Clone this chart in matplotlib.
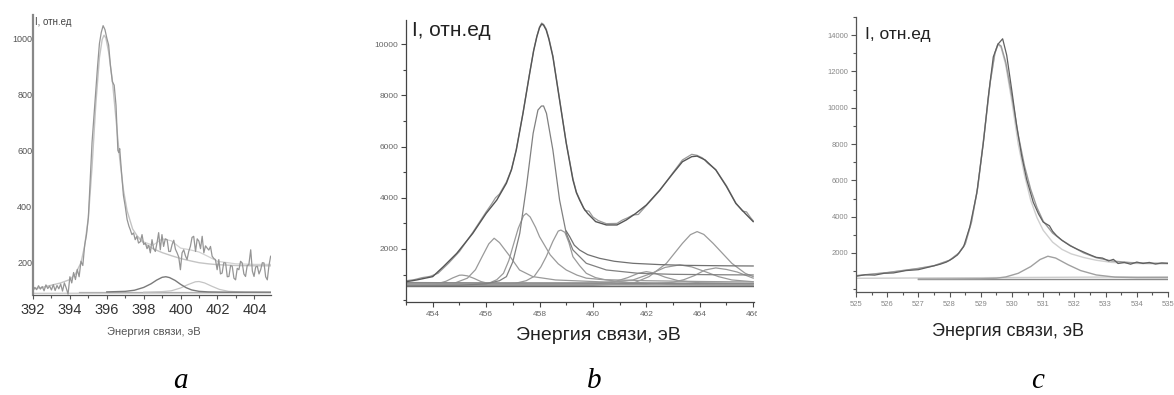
"""
XPS spectra: N 1s (a), Ti 2p (b), O 1s (c) with fitted components
"""

import matplotlib
matplotlib.use("Agg")
import matplotlib.pyplot as plt
from matplotlib.ticker import FixedLocator, MultipleLocator
from matplotlib.transforms import Bbox, TransformedBbox

plt.rcParams["font.family"] = ["Liberation Sans", "DejaVu Sans"]

W, H = 1174, 395

# ---------------- panel a ----------------
a_meas_x = [392.00, 392.10, 392.20, 392.30, 392.40, 392.50, 392.60, 392.70, 392.80, 392.90,
            393.00, 393.10, 393.20, 393.30, 393.40, 393.50, 393.60, 393.70, 393.80, 393.90,
            394.00, 394.10, 394.20, 394.30, 394.40, 394.50, 394.60, 394.70, 394.80, 394.90,
            395.00, 395.10, 395.20, 395.30, 395.40, 395.50, 395.60, 395.70, 395.80, 395.90,
            396.00, 396.10, 396.20, 396.30, 396.40, 396.50, 396.60, 396.65, 396.70, 396.80,
            396.90, 397.00, 397.10, 397.20, 397.27, 397.36, 397.45, 397.54, 397.63, 397.72,
            397.82, 397.91, 398.00, 398.09, 398.18, 398.27, 398.36, 398.45, 398.54, 398.63,
            398.72, 398.81, 398.90, 398.99, 399.08, 399.17, 399.27, 399.36, 399.45, 399.54,
            399.63, 399.72, 399.81, 399.90, 399.99, 400.08, 400.17, 400.26, 400.35, 400.44,
            400.53, 400.62, 400.71, 400.81, 400.90, 400.99, 401.08, 401.17, 401.26, 401.35,
            401.44, 401.53, 401.62, 401.71, 401.80, 401.89, 401.98, 402.07, 402.16, 402.25,
            402.34, 402.44, 402.53, 402.62, 402.71, 402.80, 402.89, 402.98, 403.07, 403.16,
            403.25, 403.34, 403.43, 403.52, 403.61, 403.70, 403.80, 403.89, 403.98, 404.07,
            404.16, 404.25, 404.34, 404.43, 404.52, 404.61, 404.70, 404.79, 404.88]
a_meas_y = [100, 112, 104, 118, 106, 115, 100, 121, 108, 117,
            103, 122, 101, 119, 107, 124, 99, 128, 110, 88,
            150, 128, 165, 140, 176, 150, 205, 190, 262, 300,
            360, 496, 628, 720, 807, 900, 980, 1020, 1044, 1030,
            1000, 975, 900, 845, 832, 760, 600, 592, 606, 520,
            440, 400, 354, 330, 318, 300, 306, 282, 294, 270,
            275, 300, 265, 270, 250, 262, 235, 282, 250, 240,
            270, 307, 246, 300, 258, 285, 282, 240, 240, 265,
            280, 248, 235, 220, 175, 235, 246, 225, 211, 240,
            258, 290, 294, 240, 285, 277, 250, 294, 235, 260,
            252, 245, 258, 223, 215, 211, 175, 211, 160, 163,
            200, 199, 150, 151, 190, 187, 145, 139, 180, 175,
            205, 199, 160, 151, 190, 193, 246, 170, 151, 185,
            187, 160, 175, 200, 199, 150, 139, 190, 223]

a_main_x = [392.0, 392.5, 393.0, 393.5, 394.0, 394.3, 394.6, 394.8, 395.0, 395.2, 395.4,
            395.6, 395.75, 395.85, 395.95, 396.1, 396.3, 396.5, 396.7, 396.9, 397.1, 397.4,
            397.7, 398.0, 398.5, 399.0, 399.5, 400.0, 400.5, 401.0, 401.5, 402.0, 403.0,
            404.0, 404.9]
a_main_y = [107, 112, 120, 128, 140, 160, 200, 260, 360, 540, 760,
            930, 995, 1010, 1000, 950, 850, 710, 570, 460, 385, 320,
            290, 270, 250, 236, 225, 215, 207, 200, 196, 193, 190,
            189, 189]

a_env_x = [397.7, 398.0, 398.5, 399.0, 399.5, 400.0, 400.5, 401.0, 401.5, 402.0, 403.0, 404.0, 404.9]
a_env_y = [292, 274, 262, 285, 278, 252, 246, 238, 222, 205, 196, 194, 194]

a_pk1_x = [396.0, 397.0, 397.5, 398.0, 398.4, 398.7, 399.0, 399.2, 399.4, 399.7, 400.0,
           400.3, 400.6, 401.0, 401.5, 402.5, 404.9]
a_pk1_y = [96, 98, 102, 112, 125, 138, 148, 150, 147, 137, 123, 111, 103, 98, 96, 95, 95]

a_pk2_x = [398.0, 399.0, 399.5, 400.0, 400.4, 400.8, 401.0, 401.3, 401.7, 402.1, 402.6, 403.5, 404.9]
a_pk2_y = [95, 97, 100, 110, 122, 132, 133, 128, 116, 105, 98, 95, 94]

a_base_x = [392.0, 404.9]
a_base_y = [91, 93]
a_base2_x = [394.5, 404.9]
a_base2_y = [96, 96]

a_xticks = [392, 394, 396, 398, 400, 402, 404]
a_yticks = [200, 400, 600, 800, 1000]

# ---------------- panel b ----------------
b_env_x = [453.0, 453.4, 454.0, 454.4, 454.9, 455.5, 456.0, 456.4, 456.76, 456.95, 457.13,
           457.38, 457.63, 457.78, 457.9, 458.0, 458.08, 458.15, 458.25, 458.35, 458.5,
           458.75, 459.0, 459.25, 459.38, 459.5, 459.65, 459.8, 460.1, 460.5, 460.9, 461.25,
           461.6, 462.0, 462.5, 463.0, 463.35, 463.7, 463.9, 464.2, 464.6, 465.0, 465.35,
           465.7, 466.0]
b_env_y = [720, 790, 920, 1310, 1830, 2610, 3390, 3915, 4570, 5100, 5870,
           7300, 8860, 9750, 10300, 10650, 10790, 10750, 10555, 10200, 9510,
           7820, 6130, 4700, 4200, 3915, 3600, 3390, 3070, 2940, 2940, 3135,
           3390, 3720, 4300, 4960, 5410, 5610, 5630, 5480, 5090, 4440, 3780,
           3390, 3070]

b_meas_x = [453.0, 453.3, 453.6, 453.9, 454.2, 454.6, 455.0, 455.5, 456.0, 456.2, 456.35,
            456.5, 456.76, 456.95, 457.13, 457.38, 457.63, 457.78, 457.9, 458.0, 458.08,
            458.15, 458.25, 458.35, 458.5, 458.75, 459.0, 459.25, 459.38, 459.5, 459.7,
            459.85, 460.0, 460.2, 460.5, 460.9, 461.1, 461.3, 461.5, 461.7, 462.0, 462.5,
            463.0, 463.35, 463.7, 463.9, 464.1, 464.3, 464.6, 465.0, 465.35, 465.6, 465.75,
            465.9, 466.0]
b_meas_y = [760, 800, 880, 930, 1050, 1450, 1900, 2650, 3450, 3750, 4000,
            4150, 4620, 5120, 5900, 7320, 8880, 9770, 10320, 10680, 10830,
            10780, 10600, 10240, 9550, 7860, 6160, 4750, 4230, 3950, 3500,
            3480, 3250, 3110, 2990, 3000, 3130, 3220, 3330, 3350, 3700, 4280,
            4990, 5480, 5700, 5660, 5560, 5350, 5100, 4470, 3800, 3480, 3450,
            3230, 3100]

b_bg_x = [459.0, 459.13, 459.3, 459.5, 459.8, 460.25, 460.8, 461.5, 462.5, 463.5,
          464.5, 465.3, 466.0]
b_bg_y = [2700, 2480, 2150, 1960, 1780, 1635, 1520, 1440, 1390, 1360, 1348, 1340, 1336]

b_p1_x = [453.0, 453.8, 454.2, 454.5, 454.75, 455.0, 455.1, 455.3, 455.55, 455.8, 456.1,
          456.5, 457.2, 466.0]
b_p1_y = [600, 610, 650, 740, 870, 975, 980, 950, 850, 730, 650, 610, 600, 590]

b_p2_x = [453.0, 454.0, 454.8, 455.3, 455.6, 455.85, 456.1, 456.3, 456.5, 456.9, 457.25,
          457.75, 458.6, 460.2, 462.0, 466.0]
b_p2_y = [600, 630, 660, 860, 1190, 1700, 2200, 2420, 2250, 1700, 1180, 920, 790, 720, 680, 650]

b_p3_x = [453.0, 455.0, 456.1, 456.4, 456.65, 456.85, 457.0, 457.2, 457.4, 457.5, 457.65,
          457.85, 458.0, 458.4, 458.7, 459.0, 459.4, 459.75, 460.4, 460.9, 462.0, 464.0, 466.0]
b_p3_y = [580, 600, 660, 800, 1050, 1550, 2090, 2800, 3300, 3390, 3250,
          2850, 2480, 1770, 1420, 1180, 980, 860, 800, 790, 760, 730, 710]

b_p4_x = [453.0, 455.0, 456.0, 456.5, 456.76, 457.0, 457.26, 457.51, 457.76, 457.94, 458.07,
          458.15, 458.26, 458.5, 458.75, 459.0, 459.25, 459.75, 460.5, 461.7, 463.0, 464.5, 466.0]
b_p4_y = [560, 580, 640, 760, 920, 1500, 2613, 4436, 6519, 7430, 7587,
          7590, 7300, 5868, 3915, 2613, 1962, 1441, 1180, 1050, 1010, 995, 985]

b_p5_x = [453.0, 456.0, 457.1, 457.5, 457.8, 458.05, 458.25, 458.5, 458.7, 458.8, 458.95,
          459.1, 459.25, 459.5, 459.75, 460.1, 460.5, 461.5, 463.0, 466.0]
b_p5_y = [570, 590, 660, 760, 930, 1300, 1700, 2300, 2700, 2740, 2650,
          2250, 1700, 1350, 1050, 880, 790, 660, 610, 590]

b_p6_x = [453.0, 460.0, 460.8, 461.3, 461.7, 462.0, 462.3, 462.7, 463.2, 464.0, 466.0]
b_p6_y = [620, 640, 720, 880, 1050, 1115, 1060, 900, 760, 680, 650]

b_p7_x = [453.0, 460.5, 461.5, 462.2, 462.7, 463.25, 463.7, 464.2, 464.7, 465.2, 466.0]
b_p7_y = [650, 680, 790, 1050, 1280, 1380, 1300, 1115, 920, 790, 720]

b_p8_x = [453.0, 460.0, 461.5, 462.1, 462.75, 463.35, 463.65, 463.9, 464.15, 464.5, 465.2, 465.7, 466.0]
b_p8_y = [560, 580, 660, 920, 1440, 2220, 2560, 2680, 2570, 2220, 1440, 1050, 920]

b_p9_x = [453.0, 462.0, 463.0, 463.4, 463.8, 464.2, 464.6, 465.0, 465.4, 465.7, 466.0]
b_p9_y = [600, 620, 700, 800, 960, 1180, 1260, 1200, 1100, 980, 860]

b_base_x = [453.0, 466.0]
b_base1_y = [540, 540]
b_base2_y = [690, 640]

b_xticks = [454, 456, 458, 460, 462, 464, 466]
b_yticks = [2000, 4000, 6000, 8000, 10000]

# ---------------- panel c ----------------
c_meas_x = [525.0, 525.3, 525.6, 525.9, 526.2, 526.6, 527.0, 527.4, 527.7, 527.9, 528.1,
            528.25, 528.45, 528.65, 528.87, 529.08, 529.24, 529.4, 529.55, 529.7, 529.83,
            529.99, 530.15, 530.31, 530.47, 530.68, 530.85, 531.0, 531.2, 531.3, 531.43,
            531.6, 531.86, 532.1, 532.3, 532.5, 532.7, 532.9, 533.1, 533.25, 533.4, 533.6,
            533.8, 534.0, 534.2, 534.4, 534.6, 534.8, 535.0]
c_meas_y = [720, 800, 780, 880, 900, 1030, 1080, 1250, 1380, 1500, 1700,
            1890, 2350, 3450, 5280, 8040, 10600, 12800, 13500, 13800, 12900,
            11000, 9000, 7350, 6050, 4800, 4150, 3700, 3500, 3200, 2950,
            2700, 2400, 2200, 2050, 1900, 1760, 1720, 1560, 1650, 1420, 1480,
            1380, 1500, 1420, 1480, 1390, 1450, 1430]

c_fit_x = [525.0, 526.0, 527.0, 527.5, 528.0, 528.3, 528.5, 528.7, 528.9, 529.1, 529.3,
           529.45, 529.55, 529.65, 529.8, 530.0, 530.2, 530.4, 530.6, 530.8, 531.0, 531.3,
           531.6, 531.9, 532.3, 532.7, 533.2, 533.8, 534.4, 535.0]
c_env_y = [750, 920, 1150, 1300, 1600, 2000, 2500, 3700, 5600, 8400, 11400,
           13000, 13520, 13400, 12500, 10600, 8500, 6800, 5500, 4500, 3750, 3100,
           2700, 2380, 2000, 1740, 1560, 1470, 1440, 1430]
c_main_y = [740, 910, 1140, 1290, 1590, 1990, 2490, 3690, 5580, 8380, 11380,
            12980, 13480, 13330, 12350, 10300, 8000, 6300, 4900, 3950, 3250, 2600,
            2200, 1950, 1750, 1600, 1480, 1430, 1410, 1400]

c_pk_x = [527.0, 528.0, 529.0, 529.5, 529.8, 530.2, 530.6, 530.9, 531.15, 531.4, 531.8,
          532.2, 532.7, 533.3, 534.0, 535.0]
c_pk_y = [560, 565, 580, 610, 680, 880, 1250, 1640, 1820, 1720, 1350, 1030, 790, 670, 640, 640]

c_base_x = [525.0, 535.0]
c_base_y = [605, 690]
c_base2_x = [527.0, 535.0]
c_base2_y = [555, 555]

c_xticks = [525, 526, 527, 528, 529, 530, 531, 532, 533, 534, 535]
c_yticks = [2000, 4000, 6000, 8000, 10000, 12000, 14000]

xlabel = "Энергия связи, эВ"
ylabel = "I, отн.ед"


def axes_rect(left, top, right, bottom):
    return [left / W, 1 - bottom / H, (right - left) / W, (bottom - top) / H]


def style_axes(ax, spine_color, tick_color, label_color, label_size):
    for s in ["top", "right"]:
        ax.spines[s].set_visible(False)
    for s in ["left", "bottom"]:
        ax.spines[s].set_color(spine_color)
        ax.spines[s].set_linewidth(0.9)
    ax.tick_params(which="both", direction="out", colors=tick_color,
                   labelcolor=label_color, labelsize=label_size, width=0.8)
    ax.tick_params(which="major", length=3.5, pad=2)
    ax.tick_params(which="minor", length=2)


fig = plt.figure(figsize=(W / 100, H / 100), dpi=100)

# panel a
axa = fig.add_axes(axes_rect(33, 15, 271, 295))
axa.plot(a_base_x, a_base_y, color="#c8c8c8", lw=0.9)
axa.plot(a_base2_x, a_base2_y, color="#b0b0b0", lw=0.9)
axa.plot(a_pk2_x, a_pk2_y, color="#c4c4c4", lw=0.9)
axa.plot(a_pk1_x, a_pk1_y, color="#7a7a7a", lw=1.0)
axa.plot(a_env_x, a_env_y, color="#d2d2d2", lw=0.9)
axa.plot(a_main_x, a_main_y, color="#c4c4c4", lw=1.0)
axa.plot(a_meas_x, a_meas_y, color="#959595", lw=0.9)
axa.set_xlim(392, 404.9)
axa.set_ylim(85, 1082)
style_axes(axa, "#555555", "#555555", "#333333", 10.5)
axa.spines["left"].set_color("#888888")
axa.spines["left"].set_linewidth(1.6)
axa.xaxis.set_major_locator(FixedLocator(a_xticks))
axa.xaxis.set_minor_locator(MultipleLocator(1))
axa.yaxis.set_major_locator(FixedLocator(a_yticks))
axa.tick_params(axis="y", length=0, pad=0.5, labelsize=6.5, labelcolor="#555555")
axa.tick_params(axis="x", which="major", length=3, pad=3)
axa.text(0.008, 0.993, ylabel, transform=axa.transAxes, ha="left", va="top",
         fontsize=7, color="#444444")

# panel b
axb = fig.add_axes(axes_rect(406, 20, 754, 301.7))
for xs, ys in [(b_p1_x, b_p1_y), (b_p2_x, b_p2_y), (b_p3_x, b_p3_y), (b_p5_x, b_p5_y),
               (b_p6_x, b_p6_y), (b_p7_x, b_p7_y), (b_p8_x, b_p8_y), (b_p9_x, b_p9_y)]:
    axb.plot(xs, ys, color="#9a9a9a", lw=0.9)
axb.plot(b_base_x, b_base1_y, color="#6a6a6a", lw=1.0)
axb.plot(b_base_x, b_base2_y, color="#8a8a8a", lw=0.9)
axb.plot(b_p4_x, b_p4_y, color="#808080", lw=0.9)
axb.plot(b_bg_x, b_bg_y, color="#707070", lw=0.9)
axb.plot(b_meas_x, b_meas_y, color="#9a9a9a", lw=0.9)
axb.plot(b_env_x, b_env_y, color="#555555", lw=1.0)
axb.set_xlim(453, 466.03)
axb.set_ylim(-60, 10950)
style_axes(axb, "#444444", "#444444", "#666666", 6)
axb.xaxis.set_major_locator(FixedLocator(b_xticks))
axb.xaxis.set_minor_locator(MultipleLocator(1))
axb.yaxis.set_major_locator(FixedLocator(b_yticks))
axb.yaxis.set_minor_locator(MultipleLocator(1000))
axb.tick_params(axis="x", which="major", pad=3)
axb.text(0.017, 0.996, ylabel, transform=axb.transAxes, ha="left", va="top",
         fontsize=15, color="#222222")
# the original figure is cropped just after the 466 tick
clip = TransformedBbox(Bbox([[0, 0], [757 / W, 1]]), fig.transFigure)
for t in axb.xaxis.get_major_ticks():
    t.label1.set_clip_box(clip)
    t.label1.set_clip_on(True)

# panel c
axc = fig.add_axes(axes_rect(856, 17, 1168, 292))
axc.plot(c_base_x, c_base_y, color="#cccccc", lw=1.0)
axc.plot(c_base2_x, c_base2_y, color="#8a8a8a", lw=1.0)
axc.plot(c_pk_x, c_pk_y, color="#a0a0a0", lw=1.0)
axc.plot(c_fit_x, c_main_y, color="#cfcfcf", lw=1.0)
axc.plot(c_fit_x, c_env_y, color="#9a9a9a", lw=1.0)
axc.plot(c_meas_x, c_meas_y, color="#606060", lw=0.9)
axc.set_xlim(525, 535)
axc.set_ylim(-150, 15000)
style_axes(axc, "#555555", "#555555", "#888888", 5.5)
axc.xaxis.set_major_locator(FixedLocator(c_xticks))
axc.xaxis.set_minor_locator(MultipleLocator(0.5))
axc.yaxis.set_major_locator(FixedLocator(c_yticks))
axc.yaxis.set_minor_locator(MultipleLocator(1000))
axc.tick_params(axis="x", which="major", pad=3)
axc.text(0.029, 0.964, ylabel, transform=axc.transAxes, ha="left", va="top",
         fontsize=12.5, color="#222222")

# axis titles and panel letters
fig.text(154 / W, 1 - 332 / H, xlabel, ha="center", va="center", fontsize=8, color="#555555")
fig.text(598 / W, 1 - 335 / H, xlabel, ha="center", va="center", fontsize=14, color="#222222")
fig.text(1008 / W, 1 - 332 / H, xlabel, ha="center", va="center", fontsize=13, color="#222222")
for x, letter in [(180, "a"), (594, "b"), (1038, "c")]:
    fig.text(x / W, 1 - 388 / H, letter, ha="center", va="baseline", fontsize=21,
             style="italic", family=["Liberation Serif", "DejaVu Serif"], color="#000000")

fig.savefig("out.png", dpi=100)
